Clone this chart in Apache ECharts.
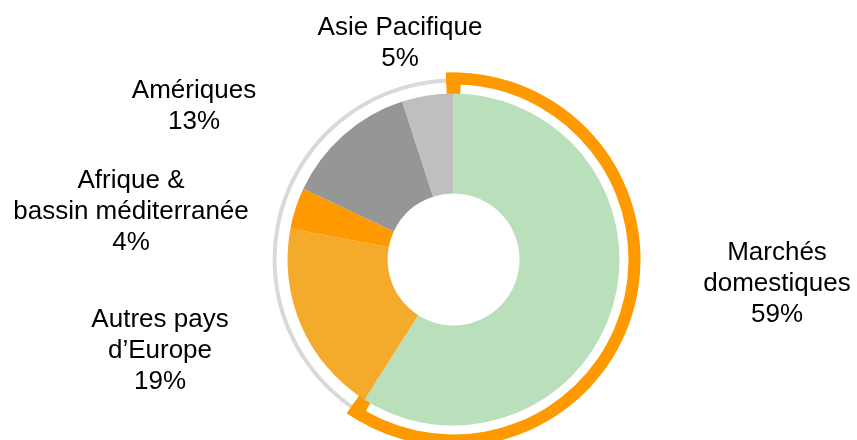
<!DOCTYPE html>
<html>
<head>
<meta charset="utf-8">
<script src="https://cdn.jsdelivr.net/npm/echarts@6/dist/echarts.min.js"></script>
<style>
  html, body { margin: 0; padding: 0; background: #ffffff; }
  #chart { width: 857px; height: 440px; }
</style>
</head>
<body>
<div id="chart"></div>
<script>
// parts du chiffre d'affaires par zone
const regions = ['Marchés\ndomestiques', 'Autres pays\nd’Europe', 'Afrique &\nbassin méditerranée', 'Amériques', 'Asie Pacifique'];
const shares = [59, 19, 4, 13, 5];
const colors = ['#B9DFBB', '#F4AA2B', '#FF9900', '#969696', '#BFBFBF'];

// label block centres (px)
const labelPos = [[777, 284], [160, 351], [131, 212], [194, 106], [400, 43]];

const center = [453.5, 259.5];
const tab = 1.3; // width of the bracket tabs, in % of the circle
const domestic = shares[0];
const total = shares.reduce((a, b) => a + b, 0);

const chart = echarts.init(document.getElementById('chart'));
const option = {
  animation: false,
  series: [
    {
      // anneau gris
      type: 'pie',
      center: center,
      radius: [177, 181],
      startAngle: 90,
      silent: true,
      label: { show: false },
      labelLine: { show: false },
      data: [
        { value: domestic, itemStyle: { color: 'transparent' } },
        { value: total - domestic, itemStyle: { color: '#D9D9D9' } }
      ]
    },
    {
      // anneau orange autour des marchés domestiques
      type: 'pie',
      center: center,
      radius: [175, 187],
      startAngle: 90 + tab / 2 * 3.6,
      silent: true,
      label: { show: false },
      labelLine: { show: false },
      data: [
        { value: domestic + tab, itemStyle: { color: '#FF9900' } },
        { value: total - domestic - tab, itemStyle: { color: 'transparent' } }
      ]
    },
    {
      // crochets aux extrémités
      type: 'pie',
      center: center,
      radius: [165, 187],
      startAngle: 90 + tab / 2 * 3.6,
      silent: true,
      label: { show: false },
      labelLine: { show: false },
      data: [
        { value: tab, itemStyle: { color: '#FF9900' } },
        { value: domestic - tab, itemStyle: { color: 'transparent' } },
        { value: tab, itemStyle: { color: '#FF9900' } },
        { value: total - domestic - tab, itemStyle: { color: 'transparent' } }
      ]
    },
    {
      type: 'pie',
      center: center,
      radius: [66, 166],
      startAngle: 90,
      clockwise: true,
      avoidLabelOverlap: false,
      silent: true,
      label: {
        show: true,
        position: 'outside',
        formatter: '{b}\n{c}%',
        fontFamily: 'Liberation Sans, Arial, sans-serif',
        fontSize: 26,
        lineHeight: 31,
        color: '#000000',
        align: 'center'
      },
      labelLine: { show: false },
      labelLayout: function (params) {
        const p = labelPos[params.dataIndex];
        return { x: p[0], y: p[1], align: 'center', verticalAlign: 'middle' };
      },
      data: regions.map((name, i) => ({
        name: name,
        value: shares[i],
        itemStyle: { color: colors[i] }
      }))
    }
  ]
};
chart.setOption(option);
</script>
</body>
</html>
